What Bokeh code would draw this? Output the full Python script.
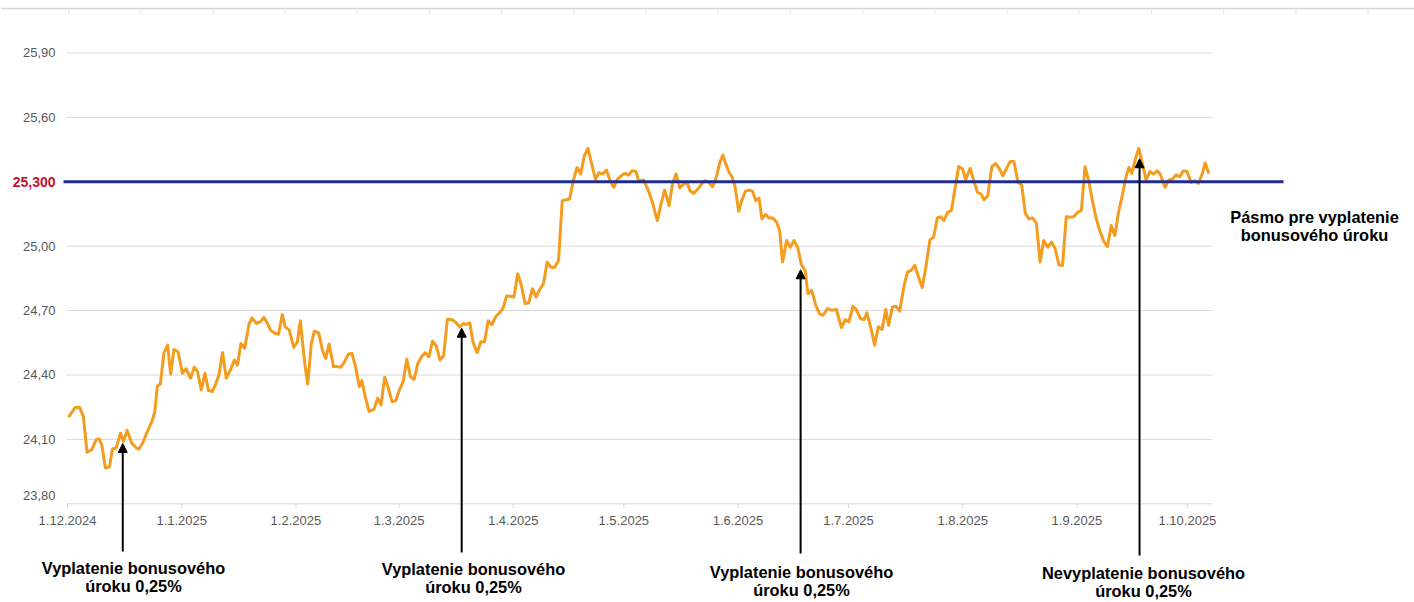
import pandas as pd
from bokeh.plotting import figure
from bokeh.models import Range1d, Label, Arrow, NormalHead
from bokeh.core.properties import value
from bokeh.embed import file_html
from bokeh.resources import INLINE

# ---------------- data ----------------
START = pd.Timestamp("2024-12-01")

# days since 1.12.2024 and the rate
days = [
    0.3, 2.1, 3.3, 4.3, 5.3, 6.6, 7.8, 8.6, 9.3, 10.3,
    11.4, 12.2, 13.2, 14.4, 15.2, 16.2, 17.4, 18.7, 19.4, 20.4,
    21.7, 23.0, 23.7, 24.4, 25.2, 26.2, 27.2, 28.0, 28.9, 30.0,
    31.2, 32.2, 33.4, 34.4, 35.3, 36.3, 37.3, 38.3, 39.3, 40.3,
    41.1, 42.1, 43.1, 44.3, 45.3, 46.1, 47.1, 48.1, 49.3, 50.1,
    51.3, 52.3, 53.3, 54.3, 55.1, 56.1, 57.3, 58.3, 59.1, 60.2,
    61.4, 62.4, 63.2, 64.4, 65.2, 66.2, 67.0, 68.2, 69.2, 70.1,
    71.0, 72.2, 73.2, 74.2, 75.2, 76.2, 77.2, 78.2, 79.2, 79.9,
    80.9, 81.9, 83.2, 84.2, 85.1, 86.1, 87.1, 88.1, 89.1, 90.1,
    91.1, 92.1, 93.1, 94.1, 95.1, 96.1, 97.1, 98.1, 99.1, 100.1,
    101.1, 102.1, 103.1, 104.3, 105.3, 106.5, 107.5, 108.1, 109.2, 110.1,
    111.2, 112.2, 113.2, 114.2, 115.2, 116.2, 117.2, 118.2, 119.2, 120.2,
    121.2, 122.2, 123.2, 124.2, 125.2, 126.2, 127.2, 128.2, 129.2, 130.2,
    131.2, 132.2, 133.3, 134.3, 135.3, 136.3, 137.3, 138.3, 139.3, 140.3,
    141.3, 142.3, 143.3, 144.3, 145.3, 146.3, 147.3, 148.3, 149.3, 150.3,
    151.3, 152.3, 153.3, 154.3,
    155.0, 156.4, 157.7, 158.9, 160.1, 161.1, 162.1, 163.3, 164.2, 165.2,
    166.2, 167.2, 168.2, 169.0, 170.0, 171.1, 172.1, 173.1, 174.1, 175.1,
    176.1, 177.1, 177.9, 178.7, 179.6, 180.4, 181.2, 182.2, 183.0, 184.0,
    185.0, 186.0, 186.8, 187.7, 188.5, 189.5, 190.5, 191.5, 192.5, 193.3,
    194.1, 195.2, 196.2, 197.2, 198.2, 199.2, 200.2, 201.0, 202.0, 203.1,
    204.1, 205.1, 206.3, 207.5, 208.7, 210.1, 211.1, 212.1, 213.2, 214.2,
    215.2, 216.2, 217.0, 218.1, 219.1, 220.1, 221.1, 222.1, 222.9, 223.9,
    224.9, 225.9, 227.0, 228.0, 229.0, 230.0, 231.0, 232.0, 233.0, 234.1,
    235.1, 236.1, 237.1, 237.9, 238.9, 239.9, 240.9, 241.9, 243.0, 243.8,
    245.0, 246.0, 247.0, 248.0, 248.8, 249.8, 250.9, 251.9, 252.9, 253.9,
    254.9, 255.9, 256.9, 258.0, 259.0, 260.0, 261.0, 262.0, 263.0, 264.0,
    265.0, 266.1, 267.1, 268.1, 269.1, 270.1, 271.1, 272.1, 273.1, 274.2,
    275.2, 276.2, 277.2, 278.2, 279.2, 280.2, 281.2, 282.3, 283.3, 284.3,
    285.3, 286.3, 287.3, 288.1, 288.9, 290.0, 290.8, 291.8, 292.8, 293.8,
    294.8, 295.8, 296.6, 297.9, 298.9, 299.9, 300.9, 301.9, 302.9, 303.9,
    305.0, 306.0, 307.0, 308.0, 308.8, 309.8,
]
rate = [
    24.204, 24.249, 24.249, 24.207, 24.040, 24.052, 24.099, 24.102, 24.075, 23.967,
    23.972, 24.055, 24.060, 24.129, 24.091, 24.142, 24.083, 24.060, 24.055, 24.083,
    24.137, 24.187, 24.230, 24.349, 24.358, 24.504, 24.539, 24.403, 24.519, 24.508,
    24.408, 24.429, 24.385, 24.436, 24.416, 24.330, 24.408, 24.327, 24.323, 24.361,
    24.400, 24.505, 24.385, 24.426, 24.470, 24.446, 24.547, 24.524, 24.640, 24.666,
    24.640, 24.647, 24.668, 24.640, 24.609, 24.596, 24.590, 24.681, 24.624, 24.609,
    24.528, 24.555, 24.652, 24.454, 24.358, 24.547, 24.604, 24.596, 24.516, 24.477,
    24.544, 24.439, 24.439, 24.436, 24.462, 24.497, 24.501, 24.439, 24.346, 24.374,
    24.292, 24.230, 24.241, 24.292, 24.261, 24.389, 24.338, 24.276, 24.281, 24.330,
    24.369, 24.473, 24.392, 24.380, 24.454, 24.485, 24.504, 24.485, 24.558, 24.535,
    24.470, 24.490, 24.658, 24.658, 24.647, 24.624, 24.640, 24.635, 24.643, 24.550,
    24.504, 24.555, 24.555, 24.652, 24.634, 24.671, 24.689, 24.709, 24.768, 24.767,
    24.763, 24.872, 24.818, 24.733, 24.736, 24.802, 24.763, 24.799, 24.825, 24.926,
    24.903, 24.900, 24.934, 25.212, 25.216, 25.220, 25.305, 25.366, 25.336, 25.421,
    25.456, 25.382, 25.312, 25.343, 25.336, 25.354, 25.305, 25.274, 25.312, 25.328,
    25.339, 25.331, 25.351, 25.348,
    25.305, 25.308, 25.258, 25.196, 25.119, 25.196, 25.261, 25.189, 25.289, 25.336,
    25.271, 25.289, 25.297, 25.258, 25.246, 25.266, 25.289, 25.305, 25.297, 25.277,
    25.320, 25.390, 25.424, 25.382, 25.343, 25.323, 25.277, 25.162, 25.212, 25.255,
    25.261, 25.255, 25.212, 25.224, 25.127, 25.147, 25.131, 25.131, 25.111, 25.073,
    24.926, 25.026, 24.995, 25.026, 24.995, 24.915, 24.887, 24.779, 24.794, 24.725,
    24.686, 24.678, 24.709, 24.702, 24.705, 24.621, 24.658, 24.647, 24.720, 24.702,
    24.663, 24.658, 24.689, 24.617, 24.539, 24.624, 24.612, 24.705, 24.632, 24.717,
    24.720, 24.697, 24.810, 24.879, 24.887, 24.910, 24.856, 24.807, 24.903, 25.029,
    25.042, 25.131, 25.137, 25.119, 25.158, 25.165, 25.266, 25.371, 25.359, 25.308,
    25.363, 25.305, 25.251, 25.243, 25.215, 25.235, 25.370, 25.385, 25.363, 25.328,
    25.363, 25.394, 25.394, 25.297, 25.286, 25.153, 25.127, 25.131, 25.107, 24.926,
    25.026, 24.995, 25.019, 24.988, 24.913, 24.910, 25.137, 25.135, 25.137, 25.158,
    25.165, 25.370, 25.305, 25.212, 25.131, 25.073, 25.026, 24.998, 25.096, 25.050,
    25.158, 25.235, 25.320, 25.366, 25.339, 25.413, 25.456, 25.382, 25.308, 25.348,
    25.336, 25.351, 25.336, 25.274, 25.308, 25.312, 25.332, 25.323, 25.351, 25.348,
    25.297, 25.305, 25.292, 25.336, 25.387, 25.339,
]

threshold = 25.30
threshold_label = "25,300"

month_starts = ["2024-12-01", "2025-01-01", "2025-02-01", "2025-03-01", "2025-04-01",
                "2025-05-01", "2025-06-01", "2025-07-01", "2025-08-01", "2025-09-01",
                "2025-10-01"]
month_labels = ["1.12.2024", "1.1.2025", "1.2.2025", "1.3.2025", "1.4.2025", "1.5.2025",
                "1.6.2025", "1.7.2025", "1.8.2025", "1.9.2025", "1.10.2025"]

y_ticks = [23.80, 24.10, 24.40, 24.70, 25.00, 25.60, 25.90]
y_labels = ["23,80", "24,10", "24,40", "24,70", "25,00", "25,60", "25,90"]

event_dates = ["2024-12-16", "2025-03-18", "2025-06-18", "2025-09-18"]
event_tip = [24.081, 24.618, 24.890, 25.407]
event_line1 = ["Vyplatenie bonusového", "Vyplatenie bonusového",
               "Vyplatenie bonusového", "Nevyplatenie bonusového"]
event_line2 = ["úroku 0,25%", "úroku 0,25%", "úroku 0,25%", "úroku 0,25%"]
band_text = ["Pásmo pre vyplatenie", "bonusového úroku"]

# ---------------- geometry (picture pixels -> data) ----------------
OFF = 0            # the canvas sits at the picture's top-left corner
W, H = 1414, 602
PX_PER_DAY = 3.684
PX_PER_UNIT = 214.7
DAY0_PX = 67.0     # x of 1.12.2024
BASE_PY = 503.3    # y of the 23,80 line


def xd(px):
    return (px - DAY0_PX) / PX_PER_DAY


def yd(py):
    return 23.80 + (BASE_PY - py) / PX_PER_UNIT


def day_of(s):
    return (pd.Timestamp(s) - START).days


FONT = "Liberation Sans"
GRID = "#d9d9d9"
ORANGE = "#f39c1e"
NAVY = "#1f2b8f"
LABEL_GREY = "#595959"
CAPTION_SIZE = "16.4px"
LINE_GAP = 18

p = figure(width=W, height=H,
           x_range=Range1d(xd(OFF), xd(OFF + W)),
           y_range=Range1d(yd(OFF + H), yd(OFF)),
           x_axis_type=None, y_axis_type=None,
           output_backend="svg", toolbar_location=None, title=None, min_border=0)
p.outline_line_color = None
p.background_fill_color = "white"

# faint rule with small ticks along the very top
p.segment(x0=[xd(0)], y0=[yd(8)], x1=[xd(W)], y1=[yd(8)],
          line_color="#d4d4d4", line_width=1.5)
tx = [xd(68 + 72.2 * k) for k in range(19)]
p.segment(x0=tx, y0=[yd(8)] * len(tx), x1=tx, y1=[yd(13)] * len(tx),
          line_color="#e4e4e4", line_width=1)

# horizontal grid (the lowest one is the x axis line)
n = len(y_ticks)
p.segment(x0=[xd(66)] * n, y0=y_ticks, x1=[xd(1212)] * n, y1=y_ticks,
          line_color=GRID, line_width=1)

# y tick labels
ylab_y = [v + (8 / PX_PER_UNIT if v == y_ticks[0] else 0) for v in y_ticks]
p.text(x=[xd(55)] * n, y=ylab_y, text=y_labels, text_align="right",
       text_baseline="middle", text_font=value(FONT), text_font_size="13px",
       text_color=LABEL_GREY)

# x ticks and labels
month_days = [day_of(m) for m in month_starts]
m = len(month_days)
p.segment(x0=month_days, y0=[23.80] * m, x1=month_days, y1=[yd(BASE_PY + 4)] * m,
          line_color=GRID, line_width=1)
p.text(x=month_days, y=[yd(520)] * m, text=month_labels, text_align="center",
       text_baseline="middle", text_font=value(FONT), text_font_size="13px",
       text_color=LABEL_GREY)

# the exchange-rate line
p.line(days, rate, line_color=ORANGE, line_width=3, line_join="round")

# threshold line and its label
p.segment(x0=[xd(63)], y0=[threshold], x1=[xd(1283)], y1=[threshold],
          line_color=NAVY, line_width=3)
p.text(x=[xd(55)], y=[threshold], text=[threshold_label], text_align="right",
       text_baseline="middle", text_font=value(FONT), text_font_size="14px",
       text_font_style="bold", text_color="#c8102e")

# band caption
for i, t in enumerate(band_text):
    p.add_layout(Label(x=xd(1314), y=yd(216.5 + LINE_GAP * i), text=t, text_align="center",
                       text_baseline="middle", text_font=FONT, text_font_size=CAPTION_SIZE,
                       text_font_style="bold", text_color="#000000"))

# event arrows and captions
arrow_bottom = [551, 552, 553, 555]
caption_x = [133, 473, 801, 1143]
caption_y = [567, 568, 571, 572]
for d, tip, l1, l2, yb, cx, cy in zip(event_dates, event_tip, event_line1, event_line2,
                                      arrow_bottom, caption_x, caption_y):
    ex = day_of(d)
    p.add_layout(Arrow(end=NormalHead(size=9, fill_color="black", line_color="black",
                                      line_width=1),
                       x_start=ex, y_start=yd(yb), x_end=ex, y_end=tip,
                       line_color="black", line_width=2))
    for j, t in enumerate([l1, l2]):
        p.add_layout(Label(x=xd(cx), y=yd(cy + LINE_GAP * j), text=t, text_align="center",
                           text_baseline="middle", text_font=FONT, text_font_size=CAPTION_SIZE,
                           text_font_style="bold", text_color="#000000"))

open("out.html", "w", encoding="utf-8").write(file_html(p, INLINE))
